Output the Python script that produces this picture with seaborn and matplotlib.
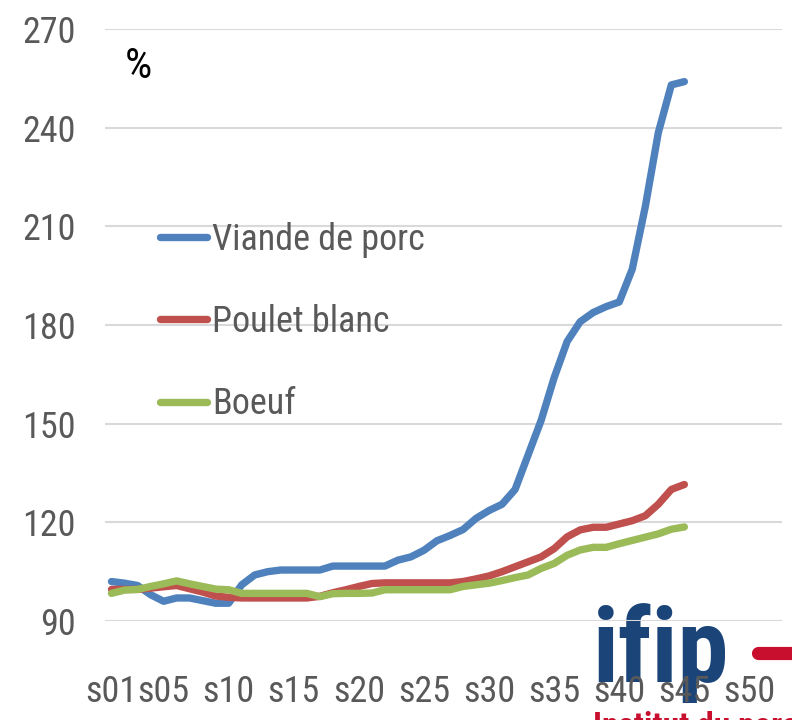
import numpy as np
import pandas as pd
import seaborn as sns
import matplotlib.pyplot as plt
from matplotlib.lines import Line2D

# weekly price index, s01..s45
weeks = list(range(1, 46))
porc = [102, 101.5, 100.8, 98, 96, 97, 97, 96.2, 95.4, 95.4,
        101, 104, 105, 105.5, 105.5, 105.5, 105.5, 106.7, 106.7, 106.7,
        106.7, 106.7, 108.5, 109.5, 111.5, 114.4, 116, 117.8, 121.2, 123.6,
        125.5, 130, 140.5, 151, 164, 175, 181, 183.8, 185.6, 187,
        197, 216, 238.5, 253, 254]
poulet = [99.6, 99.6, 99.6, 100, 100.4, 100.8, 99.8, 98.8, 97.6, 97.2,
          97, 97, 97, 97, 97, 97, 97.5, 98.6, 99.5, 100.5,
          101.4, 101.6, 101.6, 101.6, 101.6, 101.6, 101.6, 102, 102.8, 103.7,
          105, 106.5, 108, 109.5, 112, 115.6, 117.7, 118.5, 118.5, 119.5,
          120.5, 122, 125.5, 130, 131.5]
boeuf = [98.4, 99.4, 99.6, 100.5, 101.3, 102.2, 101.3, 100.5, 99.7, 99.5,
         98.4, 98.4, 98.4, 98.4, 98.4, 98.4, 97.4, 98.3, 98.4, 98.4,
         98.5, 99.5, 99.5, 99.5, 99.5, 99.5, 99.5, 100.5, 101, 101.5,
         102.3, 103.2, 104, 106, 107.5, 110, 111.6, 112.4, 112.4, 113.5,
         114.5, 115.5, 116.5, 117.9, 118.6]

series_names = ['Viande de porc', 'Poulet blanc', 'Boeuf']
colors = ['#4F81BD', '#C0504D', '#9BBB59']
tick_weeks = [1, 5, 10, 15, 20, 25, 30, 35, 40, 45, 50]
tick_labels = ['s%02d' % w for w in tick_weeks]
y_ticks = [90, 120, 150, 180, 210, 240, 270]

df = pd.DataFrame({'semaine': weeks * 3,
                   'indice': porc + poulet + boeuf,
                   'produit': [series_names[0]] * 45 + [series_names[1]] * 45 + [series_names[2]] * 45})

sns.set_style("white")
plt.rcParams['font.family'] = ['Liberation Sans Narrow', 'DejaVu Sans Condensed',
                               'Roboto Condensed', 'Liberation Sans', 'DejaVu Sans']
grey = '#595959'

fig = plt.figure(figsize=(7.92, 7.2), dpi=100)
ax = fig.add_axes([105 / 792, 1 - 621 / 720, 677 / 792, 592 / 720])
ax.patch.set_visible(False)

sns.lineplot(data=df, x='semaine', y='indice', hue='produit', hue_order=series_names,
             palette=dict(zip(series_names, colors)), linewidth=5.3, ax=ax,
             solid_capstyle='round', legend=False)

ax.set_xlim(0.5, 52.5)
ax.set_ylim(90, 270)
ax.set_xticks(tick_weeks)
ax.set_xticklabels(tick_labels)
ax.set_yticks(y_ticks)
ax.set_xlabel('')
ax.set_ylabel('')
ax.yaxis.grid(True, color='#D9D9D9', linewidth=1.5)
ax.xaxis.grid(False)
for s in ax.spines.values():
    s.set_visible(False)
ax.tick_params(axis='x', length=0, pad=38, labelsize=26, labelcolor=grey)
ax.tick_params(axis='y', length=0, pad=21, labelsize=26, labelcolor=grey)

handles = [Line2D([0], [0], color=c, lw=5.3, solid_capstyle='round') for c in colors]
ax.legend(handles, series_names, loc='center left', bbox_to_anchor=(0.081, 0.505),
          frameon=False, fontsize=26, labelcolor=grey, borderpad=0, borderaxespad=0,
          handlelength=1.3, handletextpad=0.15, labelspacing=1.28)

ax.text(0.029, 0.972, '%', transform=ax.transAxes, fontsize=31, color='black',
        ha='left', va='top')

# ifip logo, bottom right, partly cut by the figure edge
fig.text(593 / 792, 1 - 682 / 720, 'ifip', fontsize=74, fontweight='bold',
         color='#1B4478', ha='left', va='baseline', zorder=-1)
fig.add_artist(Line2D([758 / 792, 1.05], [1 - 653 / 720, 1 - 653 / 720],
                      color='#C8102E', lw=9.5, solid_capstyle='round',
                      transform=fig.transFigure, zorder=-1))
fig.text(593 / 792, 1 - 711 / 720, 'Institut du porc', fontsize=24, fontweight='bold',
         color='#C8102E', ha='left', va='top', zorder=-1)

fig.savefig('out.png', dpi=100)
